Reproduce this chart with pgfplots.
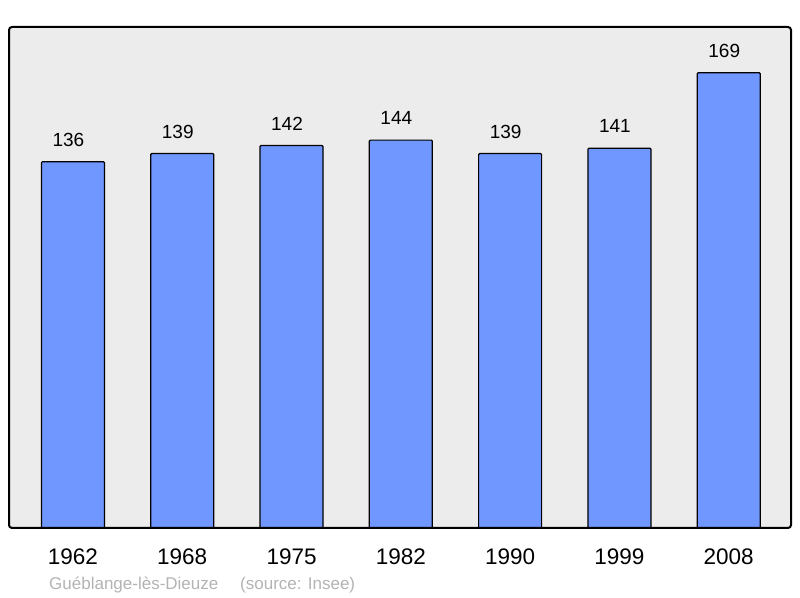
\documentclass[border=0pt]{standalone}
\usepackage{fontspec}
\setmainfont{Liberation Sans}
\usepackage{pgfplots}
\pgfplotsset{compat=1.18}
\definecolor{barblue}{RGB}{112,150,255}
\definecolor{bggray}{RGB}{236,236,236}
\definecolor{footgray}{RGB}{179,179,179}
\begin{document}
\begin{tikzpicture}[x=1bp,y=1bp]
\path[use as bounding box] (0,0) rectangle (800,598);
\begin{axis}[
  at={(9bp,70bp)}, anchor=south west,
  scale only axis, width=782bp, height=501bp,
  xmin=-0.585, xmax=6.57, ymin=0, ymax=186,
  axis background/.style={fill=bggray},
  axis line style={line width=2bp, rounded corners=3bp},
  axis on top,
  /pgf/number format/assume math mode=true,
  xtick=data,
  xticklabels={1962,1968,1975,1982,1990,1999,2008},
  ytick=\empty,
  major tick length=0pt,
  xticklabel style={font=\fontsize{22.5bp}{27bp}\selectfont, anchor=base, yshift=-37bp, inner sep=0pt},
  ybar, bar width=63bp,
  nodes near coords,
  every node near coord/.append style={font=\fontsize{19bp}{23bp}\selectfont, anchor=south, inner sep=0pt, yshift=14.7bp, xshift=-4.5bp, text=black},
]
\addplot[fill=barblue, draw=black, line width=1.2bp, rounded corners=1bp] coordinates {
  (0,136) (1,139) (2,142) (3,144) (4,139) (5,141) (6,169)
};
\end{axis}
\node[anchor=base west, text=footgray, font=\fontsize{17bp}{20bp}\selectfont, inner sep=0pt] at (49,8) {Guéblange-lès-Dieuze};
\node[anchor=base west, text=footgray, font=\fontsize{17bp}{20bp}\selectfont, inner sep=0pt] at (240,8) {(source: Insee)};
\end{tikzpicture}
\end{document}
